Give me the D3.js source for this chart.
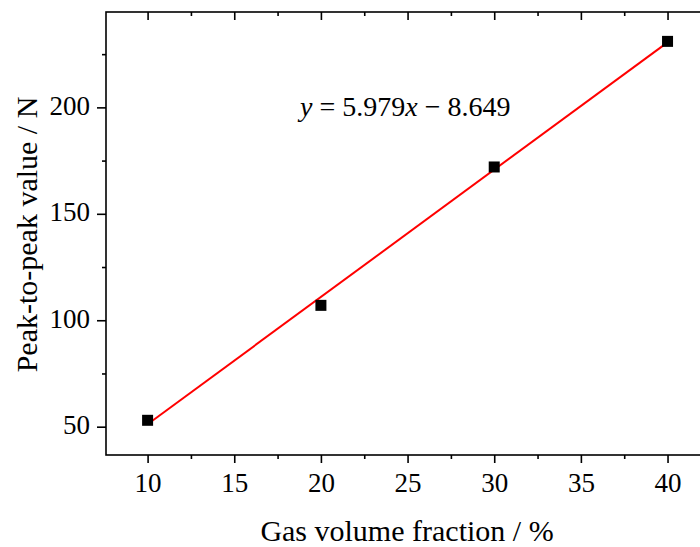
<!DOCTYPE html>
<html>
<head>
<meta charset="utf-8">
<script src="https://cdn.jsdelivr.net/npm/d3@7"></script>
<style>
  body { margin: 0; background: #fff; }
  svg text { font-family: "Times New Roman", "Liberation Serif", "DejaVu Serif", serif; }
</style>
</head>
<body>
<div id="chart"></div>
<script>
// data
const gasFraction = [10, 20, 30, 40];
const peakToPeak = [53, 107, 172, 231];
const fitSlope = 5.979;
const fitIntercept = -8.649;
const xTicks = [10, 15, 20, 25, 30, 35, 40];
const yTicks = [50, 100, 150, 200];

const SERIF = '"Times New Roman", "Liberation Serif", "DejaVu Serif", serif';
const WIDTH = 700, HEIGHT = 547;
const PLOT_L = 106, PLOT_R = 710, PLOT_T = 12, PLOT_B = 455;

const svg = d3.select("#chart").append("svg")
  .attr("width", WIDTH).attr("height", HEIGHT)
  .style("display", "block");

const x = d3.scaleLinear().domain([7.6, 42.45]).range([PLOT_L, PLOT_R]);
const y = d3.scaleLinear().domain([36.7, 244.8]).range([PLOT_B, PLOT_T]);

// minor ticks halfway between majors
const xMinor = d3.range(12.5, 42.5, 5);
const yMinor = d3.range(75, 250, 50);

function styleAxis(g) {
  g.attr("font-family", SERIF).attr("font-size", 27);
  g.select(".domain").remove();
  g.selectAll("line").attr("stroke", "#000").attr("stroke-width", 1.6);
  g.selectAll("text").attr("fill", "#000").style("font-family", SERIF);
}

// bottom axis, ticks outward
svg.append("g").attr("transform", `translate(0,${PLOT_B})`)
  .call(d3.axisBottom(x).tickValues(xTicks).tickSize(8).tickFormat(d3.format("d")))
  .call(styleAxis)
  .call(g => g.selectAll("text").attr("y", 37).attr("dy", null));
svg.append("g").attr("transform", `translate(0,${PLOT_B})`)
  .call(d3.axisBottom(x).tickValues(xMinor).tickSize(4).tickFormat(""))
  .call(styleAxis);

// left axis, ticks outward
svg.append("g").attr("transform", `translate(${PLOT_L},0)`)
  .call(d3.axisLeft(y).tickValues(yTicks).tickSize(9).tickFormat(d3.format("d")))
  .call(styleAxis)
  .call(g => g.selectAll("text").attr("x", -16).attr("dy", "0.26em"));
svg.append("g").attr("transform", `translate(${PLOT_L},0)`)
  .call(d3.axisLeft(y).tickValues(yMinor).tickSize(4).tickFormat(""))
  .call(styleAxis);

// top axis, ticks inward, no labels
svg.append("g").attr("transform", `translate(0,${PLOT_T})`)
  .call(d3.axisBottom(x).tickValues(xTicks).tickSize(8).tickFormat(""))
  .call(styleAxis);
svg.append("g").attr("transform", `translate(0,${PLOT_T})`)
  .call(d3.axisBottom(x).tickValues(xMinor).tickSize(4).tickFormat(""))
  .call(styleAxis);

// right axis (mostly off the picture), ticks inward
svg.append("g").attr("transform", `translate(${PLOT_R},0)`)
  .call(d3.axisLeft(y).tickValues(yTicks).tickSize(9).tickFormat(""))
  .call(styleAxis);

// frame
svg.append("rect")
  .attr("x", PLOT_L).attr("y", PLOT_T)
  .attr("width", PLOT_R - PLOT_L).attr("height", PLOT_B - PLOT_T)
  .attr("fill", "none").attr("stroke", "#000").attr("stroke-width", 1.6);

// fit line
const fitX = [d3.min(gasFraction), d3.max(gasFraction)];
svg.append("path")
  .datum(fitX)
  .attr("d", d3.line().x(d => x(d)).y(d => y(fitSlope * d + fitIntercept)))
  .attr("stroke", "#ff0000").attr("stroke-width", 2).attr("fill", "none");

// markers
const sz = 11;
svg.selectAll("rect.pt")
  .data(gasFraction.map((g, i) => [g, peakToPeak[i]]))
  .enter().append("rect")
  .attr("class", "pt")
  .attr("x", d => x(d[0]) - sz / 2)
  .attr("y", d => y(d[1]) - sz / 2)
  .attr("width", sz).attr("height", sz)
  .attr("fill", "#000");

// equation
const eq = svg.append("text")
  .attr("x", 300).attr("y", 116)
  .attr("font-size", 28).attr("fill", "#000")
  .style("font-family", SERIF);
eq.append("tspan").attr("font-style", "italic").text("y");
eq.append("tspan").text(" = 5.979");
eq.append("tspan").attr("font-style", "italic").text("x");
eq.append("tspan").text(" \u2212 8.649");

// axis titles
svg.append("text")
  .attr("x", 407).attr("y", 541)
  .attr("text-anchor", "middle").attr("font-size", 30)
  .style("font-family", SERIF)
  .text("Gas volume fraction / %");

svg.append("text")
  .attr("transform", "translate(37,234.5) rotate(-90)")
  .attr("text-anchor", "middle").attr("font-size", 30)
  .style("font-family", SERIF)
  .text("Peak-to-peak value / N");
</script>
</body>
</html>
